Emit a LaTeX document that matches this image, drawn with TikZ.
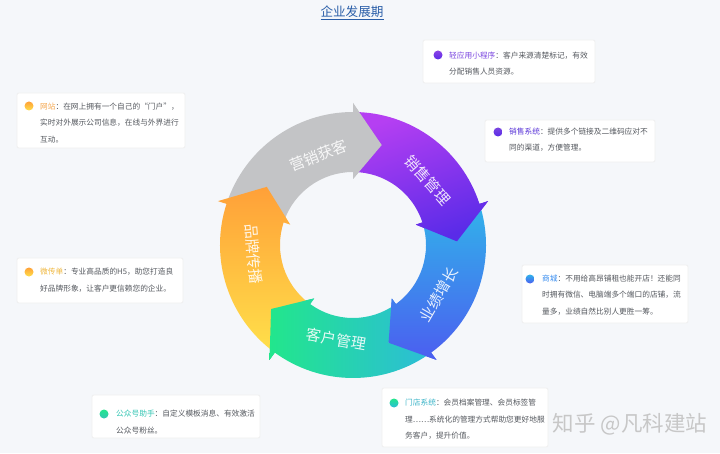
\documentclass[tikz,border=0pt]{standalone}
\usepackage{fontspec}
\setmainfont{Noto Sans CJK SC}
\usetikzlibrary{positioning}

\definecolor{pagebg}{HTML}{F5F7FA}
\definecolor{titleblue}{HTML}{2A5EA8}
\definecolor{bodygrey}{HTML}{55595F}
\definecolor{ringgrey}{HTML}{C3C4C6}
\definecolor{purpletop}{HTML}{B53FF2}
\definecolor{purplebot}{HTML}{5A2BE8}
\definecolor{bluetop}{HTML}{31B3EA}
\definecolor{bluebot}{HTML}{4B5EF0}
\definecolor{greenleft}{HTML}{22E68C}
\definecolor{greenright}{HTML}{2CBCD8}
\definecolor{orangetop}{HTML}{FFA038}
\definecolor{orangebot}{HTML}{FFE04A}
\definecolor{tcxcx}{HTML}{7A45E0}
\definecolor{tcxs}{HTML}{5A35D8}
\definecolor{tcwz}{HTML}{F5A850}
\definecolor{tcwcd}{HTML}{F0B840}
\definecolor{tcsc}{HTML}{3A8EF0}
\definecolor{tcgzh}{HTML}{34C6B4}
\definecolor{tcmd}{HTML}{3AB4C8}

% one ring segment: tail (notched) at #1, head base at #2
\newcommand{\ringarrow}[2]{(#1:133) arc[start angle=#1,end angle=#2,radius=133] -- (#2:142) -- ({#2-16}:104) -- (#2:66) -- (#2:73) arc[start angle=#2,end angle=#1,radius=73] -- ({#1-16}:104) -- cycle}
\newcommand{\ringhead}[1]{(#1:142) -- ({#1-16}:104) -- (#1:66) -- cycle}

\tikzset{
  card/.style={rectangle, rounded corners=2pt, fill=white, draw=black!6, line width=0.8pt},
  cardtext/.style={anchor=base west, inner sep=0pt, align=left, text=bodygrey,
    font={\fontsize{7.7}{16.3}\selectfont}},
  dot/.style={circle, inner sep=0pt, minimum size=9pt},
  ringlabel/.style={text=white, text opacity=0.88, inner sep=0pt,
    font={\fontsize{15}{15}\selectfont}},
  greyarrow/.style={top color=ringgrey, bottom color=ringgrey},
  purplearrow/.style={top color=purpletop, bottom color=purplebot, shading angle=20},
  bluearrow/.style={top color=bluetop, bottom color=bluebot},
  greenarrow/.style={left color=greenleft, right color=greenright},
  orangearrow/.style={top color=orangetop, bottom color=orangebot}
}

\begin{document}
\begin{tikzpicture}[x=1pt,y=1pt]
  \fill[pagebg] (0,0) rectangle (720,453);
  \useasboundingbox (0,0) rectangle (720,453);

  \node[text=titleblue, font={\fontsize{12.6}{14}\selectfont}] (title) at (352,440) {\underline{企业发展期}};

  % ring
  \begin{scope}[shift={(353,208)}]
    \shade[greyarrow] \ringarrow{162}{90};
    \shade[purplearrow] \ringarrow{90}{18};
    \shade[bluearrow] \ringarrow{18}{-54};
    \shade[greenarrow] \ringarrow{-54}{-126};
    \shade[orangearrow] \ringarrow{-126}{-198};
    % heads on top
    \begin{scope}\clip \ringhead{90}; \shade[greyarrow] \ringarrow{162}{90};\end{scope}
    \begin{scope}\clip \ringhead{18}; \shade[purplearrow] \ringarrow{90}{18};\end{scope}
    \begin{scope}\clip \ringhead{-54}; \shade[bluearrow] \ringarrow{18}{-54};\end{scope}
    \begin{scope}\clip \ringhead{-126}; \shade[greenarrow] \ringarrow{-54}{-126};\end{scope}

    \node[ringlabel, rotate=21] (yingxiao) at (111:96) {营销获客};
    \node[ringlabel, rotate=-49] (xiaoshou) at (41:99) {销售管理};
    \node[ringlabel, rotate=60] (yeji) at (-30:99) {业绩增长};
    \node[ringlabel, rotate=-10] (kehu) at (-100:96) {客户管理};
    \node[ringlabel, rotate=-85] (pinpai) at (185:100) {品牌传播};
  \end{scope}

  % cards
  \node[card, minimum width=172pt, minimum height=43pt] (cxcard) at (509,391.5) {};
  \node[dot, top color=tcxcx!70!purpletop, bottom color=purplebot] (cxdot) at (438,398) {};
  \node[cardtext] (cxtext) at (449,378) {\textcolor{tcxcx}{轻应用小程序}：客户来源清楚标记，有效\\分配销售人员资源。};

  \node[card, minimum width=170pt, minimum height=42pt] (xscard) at (570,312) {};
  \node[dot, top color=tcxcx, bottom color=purplebot] (xsdot) at (498,321) {};
  \node[cardtext] (xstext) at (509,302) {\textcolor{tcxs}{销售系统}：提供多个链接及二维码应对不\\同的渠道，方便管理。};

  \node[card, minimum width=168pt, minimum height=55pt] (wzcard) at (101,332.5) {};
  \node[dot, top color=orangetop, bottom color=orangebot] (wzdot) at (29,347) {};
  \node[cardtext] (wztext) at (40,310.7) {\textcolor{tcwz}{网站}：在网上拥有一个自己的“门户”，\\实时对外展示公司信息，在线与外界进行\\互动。};

  \node[card, minimum width=166pt, minimum height=45pt] (wcdcard) at (100,172.5) {};
  \node[dot, top color=orangetop, bottom color=orangebot] (wcddot) at (29,181) {};
  \node[cardtext] (wcdtext) at (40,162) {\textcolor{tcwcd}{微传单}：专业高品质的H5，助您打造良\\好品牌形象，让客户更信赖您的企业。};

  \node[card, minimum width=166pt, minimum height=58pt] (sccard) at (605,159) {};
  \node[dot, top color=bluetop, bottom color=bluebot] (scdot) at (530,174) {};
  \node[cardtext] (sctext) at (542,138.7) {\textcolor{tcsc}{商城}：不用给高昂铺租也能开店！还能同\\时拥有微信、电脑端多个端口的店铺，流\\量多，业绩自然比别人更胜一筹。};

  \node[card, minimum width=168pt, minimum height=43pt] (gzhcard) at (176,36.5) {};
  \node[dot, top color=greenleft, bottom color=tcgzh] (gzhdot) at (104,39) {};
  \node[cardtext] (gzhtext) at (116,20) {\textcolor{tcgzh}{公众号助手}：自定义模板消息、有效激活\\公众号粉丝。};

  \node[card, minimum width=166pt, minimum height=59pt] (mdcard) at (465,35.5) {};
  \node[dot, top color=greenleft, bottom color=greenright] (mddot) at (394,50) {};
  \node[cardtext] (mdtext) at (405,14.7) {\textcolor{tcmd}{门店系统}：会员档案管理、会员标签管\\理……系统化的管理方式帮助您更好地服\\务客户，提升价值。};

  \node[text=black!22, font={\fontsize{21.5}{22}\selectfont}] (mark) at (630,29) {知乎 @凡科建站};
\end{tikzpicture}
\end{document}
